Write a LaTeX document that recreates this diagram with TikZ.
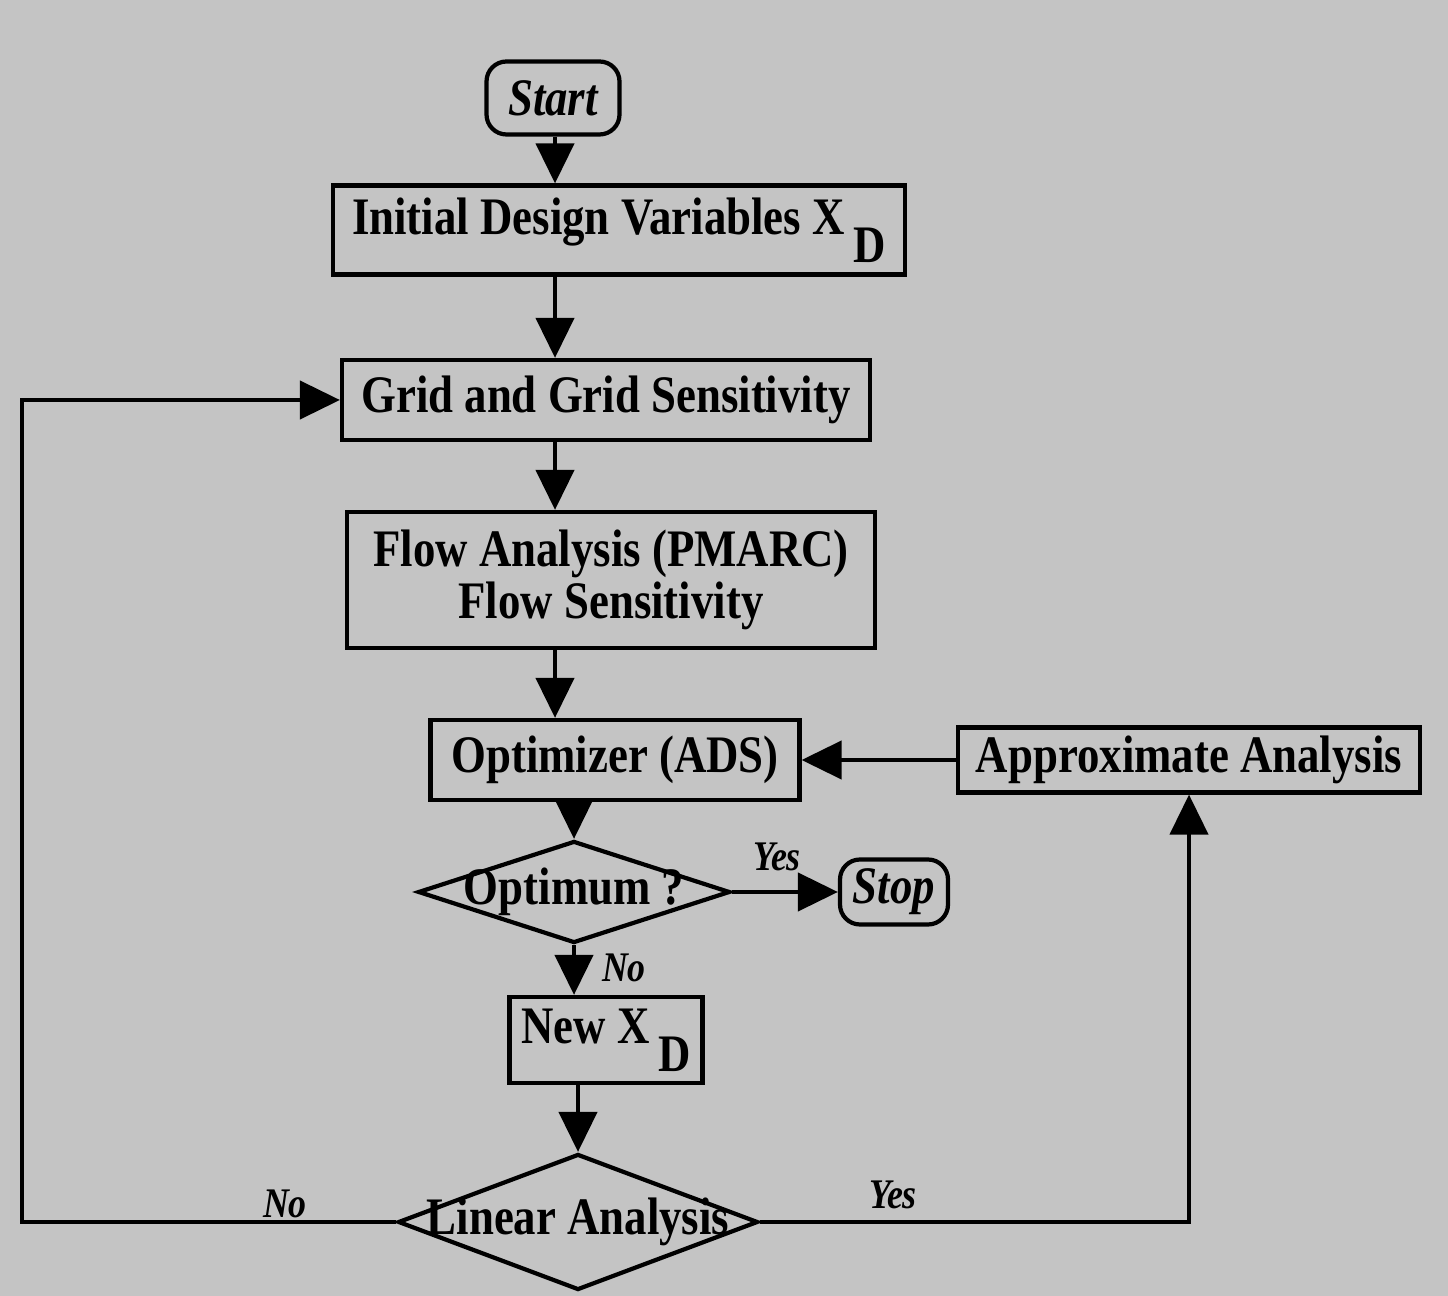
\documentclass[tikz,border=0pt]{standalone}
\usepackage{fontspec}
\setmainfont{Liberation Serif}[FakeStretch=0.85]
\usetikzlibrary{arrows.meta,shapes.geometric}
\definecolor{scan}{RGB}{196,196,196}
\begin{document}
\begin{tikzpicture}[x=0.1mm,y=-0.1mm,line width=1.2pt,
  b/.style={draw,inner sep=0.5mm,align=center,font=\fontsize{15}{13.5}\selectfont\bfseries},
  r/.style={b,rounded corners=2mm,font=\fontsize{15}{15}\selectfont\bfseries\itshape},
  dm/.style={draw,diamond,inner sep=0pt,font=\fontsize{15}{15}\selectfont\bfseries},
  l/.style={font=\fontsize{12}{12}\selectfont\bfseries\itshape,inner sep=0pt},
  a/.style={-{Triangle[length=4mm,width=3.8mm]}}]
 \fill[scan] (0,0) rectangle (1448,1296);
 \coordinate (s1) at (555,0);
 \coordinate (lp) at (22,0);
 \node[r,minimum width=13.3mm,minimum height=7.3mm] (start) at (553,98) {Start};
 \node[b,minimum width=57.2mm,minimum height=8.9mm] (init) at (619,230)
   {Initial Design Variables X\,\raisebox{-8pt}{D}};
 \node[b,minimum width=52.8mm,minimum height=8mm] (grid) at (606,400) {Grid and Grid Sensitivity};
 \node[b,minimum width=52.8mm,minimum height=13.6mm] (flow) at (611,580)
   {Flow Analysis (PMARC)\\ Flow Sensitivity};
 \node[b,minimum width=36.9mm,minimum height=8mm] (opt) at (615,760) {Optimizer (ADS)};
 \node[b,minimum width=46.2mm,minimum height=6.5mm] (appr) at (1189,760) {Approximate Analysis};
 \node[dm,minimum width=31.2mm,minimum height=10.2mm] (optq) at (574,892)
   {\makebox[0pt]{Optimum ?}};
 \node[r,minimum width=10.8mm,minimum height=6.5mm] (stop) at (894,892) {Stop};
 \node[b,minimum width=19.3mm,minimum height=8.6mm] (newx) at (606,1040)
   {New X\,\raisebox{-8pt}{D}};
 \node[dm,minimum width=36mm,minimum height=13.6mm] (lin) at (578,1222)
   {\makebox[0pt]{Linear Analysis}};
 \node[l] (yes1) at (777,857) {Yes};
 \node[l] (no1) at (624,968) {No};
 \node[l] (no2) at (285,1204) {No};
 \node[l] (yes2) at (893,1195) {Yes};
 \draw[a] (start.south -| s1) -- (init.north -| s1);
 \draw[a] (init.south -| s1) -- (grid.north -| s1);
 \draw[a] (grid.south -| s1) -- (flow.north -| s1);
 \draw[a] (flow.south -| s1) -- (opt.north -| s1);
 \draw[a] (optq.north |- opt.south) -- (optq.north);
 \draw[a] (appr.west) -- (opt.east);
 \draw[a] (optq.east) -- (stop.west);
 \draw[a] (optq.south) -- (optq.south |- newx.north);
 \draw[a] (lin.north |- newx.south) -- (lin.north);
 \draw[a] (lin.west) -- (lin.west -| lp) |- (grid.west);
 \draw[a] (lin.east) -| (appr.south);
\end{tikzpicture}
\end{document}
